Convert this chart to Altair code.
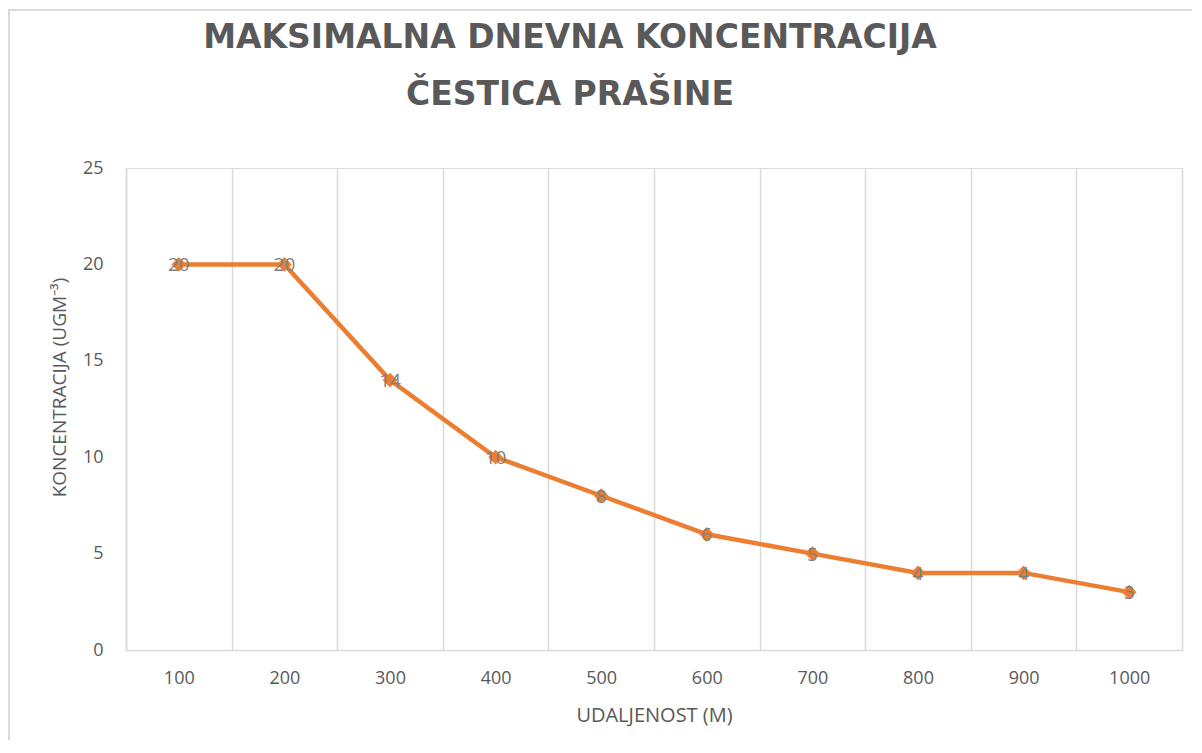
import altair as alt
import pandas as pd

distances = ["100", "200", "300", "400", "500", "600", "700", "800", "900", "1000"]
concentration = [20, 20, 14, 10, 8, 6, 5, 4, 4, 3]
y_ticks = [0, 5, 10, 15, 20, 25]

df = pd.DataFrame({"udaljenost": distances, "koncentracija": concentration})

W, H = 1056, 482

x_enc = alt.X(
    "udaljenost:O",
    sort=distances,
    scale=alt.Scale(type="band", paddingInner=0, paddingOuter=0),
    axis=alt.Axis(
        title="UDALJENOST (M)",
        labelAngle=0,
        labelFont="Open Sans",
        labelFontSize=18,
        labelColor="#595959",
        labelPadding=19,
        ticks=False,
        tickBand="extent",
        grid=True,
        gridColor="#d9d9d9",
        gridWidth=1.5,
        domainColor="#d9d9d9",
        domainWidth=1.5,
        titleFont="Open Sans",
        titleFontSize=20,
        titleFontWeight="normal",
        titleColor="#595959",
        titlePadding=18,
    ),
)
y_enc = alt.Y(
    "koncentracija:Q",
    scale=alt.Scale(domain=[0, 25], nice=False),
    axis=alt.Axis(
        title="KONCENTRACIJA (UGM⁻³)",
        values=y_ticks,
        grid=False,
        ticks=False,
        labelFont="Open Sans",
        labelFontSize=18,
        labelColor="#595959",
        labelPadding=23,
        domainColor="#d9d9d9",
        domainWidth=1.5,
        titleFont="Open Sans",
        titleFontSize=19,
        titleFontWeight="normal",
        titleColor="#595959",
        titleAngle=-90,
        titleX=-67,
        titleY=219,
        titleAlign="center",
        titleBaseline="middle",
    ),
)

frame = alt.Chart(pd.DataFrame({"f": [0]})).mark_rect(
    fill=None, stroke="#d9d9d9", strokeWidth=2
).encode(
    x=alt.value(-117), x2=alt.value(W + 200), y=alt.value(-158), y2=alt.value(H + 200)
)

base = alt.Chart(df).encode(x=x_enc, y=y_enc)
line = base.mark_line(color="#ED7D31", strokeWidth=4.5)
points = base.mark_point(shape="diamond", filled=True, color="#ED7D31", size=220, opacity=1)
labels = base.mark_text(
    font="Open Sans", fontSize=19, color="#7f7f7f", align="center", baseline="middle", dy=1
).encode(text="koncentracija:Q")

chart = alt.layer(frame, line, points, labels).properties(
    width=W,
    height=H,
    autosize=alt.AutoSizeParams(type="none"),
    padding={"left": 118, "top": 160, "right": 10, "bottom": 90},
    title=alt.TitleParams(
        text=["MAKSIMALNA DNEVNA KONCENTRACIJA", "ČESTICA PRAŠINE"],
        font="DejaVu Sans",
        fontSize=33,
        fontWeight="bold",
        color="#595959",
        anchor="middle",
        lineHeight=57,
        offset=-103,
        dx=-84,
    ),
).configure_view(stroke=None).configure(background="white")

chart.save("out.html", embed_options={"renderer": "svg", "actions": False})
